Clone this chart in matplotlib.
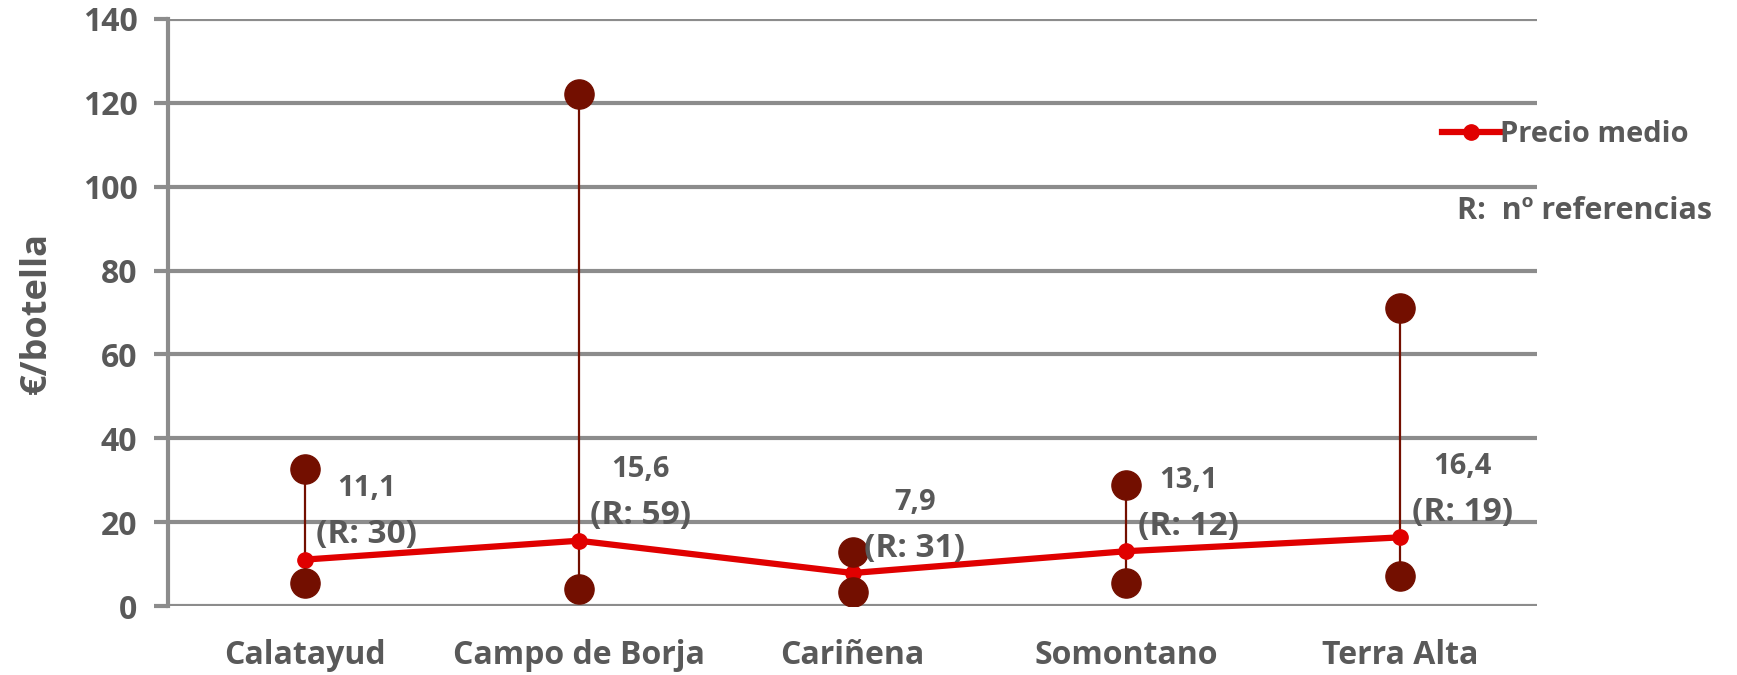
import matplotlib
matplotlib.use("Agg")
import matplotlib.pyplot as plt
from matplotlib.lines import Line2D

plt.rcParams['font.family'] = ['Open Sans', 'DejaVu Sans']

# data
regions = ["Calatayud", "Campo de Borja", "Cariñena", "Somontano", "Terra Alta"]
price_max = [32.8, 122.0, 12.9, 29.0, 71.0]
price_min = [5.4, 4.2, 3.3, 5.4, 7.1]
price_mean = [11.1, 15.6, 7.9, 13.1, 16.4]
n_refs = [30, 59, 31, 12, 19]

text_grey = "#595959"
grid_grey = "#8c8c8c"
dark_red = "#730f00"
red = "#e00000"

fig = plt.figure(figsize=(17.37, 6.75), dpi=100)
ax = fig.add_axes([0.0967, 0.102, 0.7883, 0.870])

x = list(range(len(regions)))

# high-low ranges
for i in x:
    ax.plot([i, i], [price_min[i], price_max[i]], color=dark_red, lw=1.6, zorder=3)
ax.plot(x, price_mean, color=red, lw=4.5, marker="o", ms=11, zorder=4,
        label="Precio medio")
ax.plot(x, price_max, ls="none", marker="o", ms=21, color=dark_red, zorder=5)
ax.plot(x, price_min, ls="none", marker="o", ms=21, color=dark_red, zorder=5)

# labels
for i in x:
    val = ("%.1f" % price_mean[i]).replace(".", ",")
    ax.annotate(val, (i, price_mean[i]), xytext=(62, 71), textcoords="offset pixels",
                ha="center", va="center", fontsize=21, fontweight="bold",
                color=text_grey, zorder=6)
    ax.annotate("(R: %d)" % n_refs[i], (i, price_mean[i]), xytext=(62, 25),
                textcoords="offset pixels", ha="center", va="center",
                fontsize=24, fontweight="bold", color=text_grey, zorder=6)

ax.set_xlim(-0.5, len(regions) - 0.5)
ax.set_ylim(0, 140)
ax.set_yticks(range(0, 141, 20))
ax.set_xticks(x)
ax.set_xticklabels(regions, fontsize=23, fontweight="bold", color=text_grey)
ax.tick_params(axis="x", length=0, pad=24)
ax.tick_params(axis="y", length=10, width=3, color=grid_grey, labelsize=23,
               labelcolor=text_grey, pad=12)
for lab in ax.get_yticklabels():
    lab.set_fontweight("bold")

ax.grid(axis="y", color=grid_grey, lw=3, zorder=0)
ax.set_axisbelow(True)
for side in ["top", "right", "bottom"]:
    ax.spines[side].set_visible(False)
ax.spines["left"].set_color(grid_grey)
ax.spines["left"].set_linewidth(3)

ax.set_ylabel("€/botella", fontsize=26, fontweight="bold", color=text_grey, labelpad=20)

handle = Line2D([], [], color=red, lw=4.5, marker="o", ms=11)
fig.legend([handle], ["Precio medio"], loc="center left",
           bbox_to_anchor=(0.815, 0.8), frameon=False, handlelength=2.0,
           handletextpad=0.0, prop={"size": 21, "weight": "bold"},
           labelcolor=text_grey)
fig.text(0.839, 0.687, "R:  nº referencias", fontsize=22, fontweight="bold",
         color=text_grey, va="center")

fig.savefig("out.png", dpi=100)
